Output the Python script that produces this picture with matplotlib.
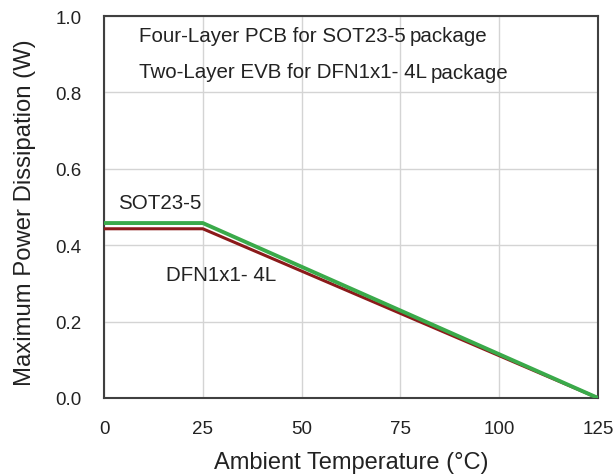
import matplotlib
matplotlib.use("Agg")
import matplotlib.pyplot as plt

plt.rcParams['font.family'] = ['Liberation Sans', 'DejaVu Sans']

# Data
temp = [0, 25, 125]
sot23_5 = [0.458, 0.458, 0.0]
dfn1x1 = [0.443, 0.443, 0.0]
xticks = [0, 25, 50, 75, 100, 125]
yticks = [0.0, 0.2, 0.4, 0.6, 0.8, 1.0]

fig = plt.figure(figsize=(6.16, 4.77), dpi=100)
ax = fig.add_axes([104/616, 78/477, 494/616, 382/477])

ax.plot(temp, dfn1x1, color='#8b1a1a', lw=2.2, solid_capstyle='butt', zorder=3)
ax.plot(temp, sot23_5, color='#3aaa4a', lw=2.8, solid_capstyle='butt', zorder=4)

ax.set_xlim(0, 125)
ax.set_ylim(0, 1.0)
ax.set_xticks(xticks)
ax.set_yticks(yticks)
ax.set_xticklabels([str(v) for v in xticks])
ax.set_yticklabels([f"{v:.1f}" for v in yticks])
ax.tick_params(length=0, labelsize=13.5, colors='#222222')
ax.tick_params(axis='y', pad=16)
ax.tick_params(axis='x', pad=16)
ax.grid(True, color='#d4d4d4', lw=1.0)
ax.set_axisbelow(True)
for s in ax.spines.values():
    s.set_color('#404040')
    s.set_linewidth(1.5)

ax.set_xlabel('Ambient Temperature (°C)', fontsize=17, color='#222222')
ax.set_ylabel('Maximum Power Dissipation (W)', fontsize=17.2, color='#222222')
ax.xaxis.set_label_coords(0.5, -0.14)
ax.yaxis.set_label_coords(-0.137, 0.488)

t1 = ax.text(8.86, 0.934, 'Four-Layer PCB for SOT23-5', fontsize=14.8, color='#222222', va='baseline')
ax.annotate('package', xy=(1, 0), xycoords=t1, xytext=(4, 4), textcoords='offset pixels',
            fontsize=14.8, color='#222222', va='baseline')
t2 = ax.text(8.86, 0.8395, 'Two-Layer EVB for DFN1x1- 4L', fontsize=14.8, color='#222222', va='baseline')
ax.annotate('package', xy=(1, 0), xycoords=t2, xytext=(4, 3), textcoords='offset pixels',
            fontsize=14.8, color='#222222', va='baseline')

ax.text(3.54, 0.5105, 'SOT23-5', fontsize=14.8, color='#222222', va='center')
ax.text(15.7, 0.322, 'DFN1x1- 4L', fontsize=14.8, color='#222222', va='center')

fig.savefig('out.png', dpi=100)
